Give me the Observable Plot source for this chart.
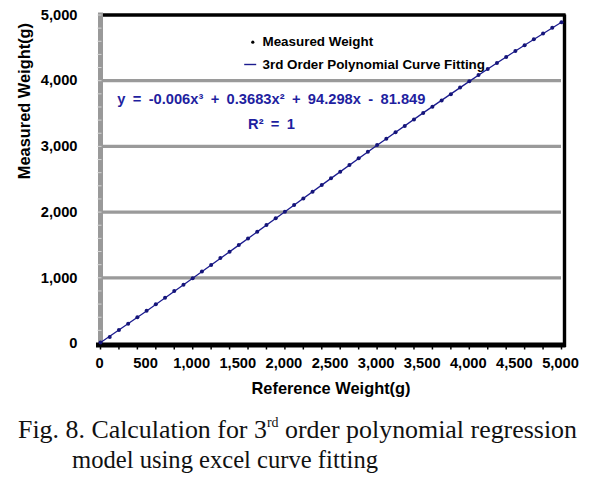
<!DOCTYPE html>
<html>
<head>
<meta charset="utf-8">
<script src="https://cdn.jsdelivr.net/npm/d3@7"></script>
<script src="https://cdn.jsdelivr.net/npm/@observablehq/plot@0.6"></script>
<style>
  html, body { margin: 0; padding: 0; background: #fff; }
  #chart svg { display: block; }
  #cap { display: block; }
</style>
</head>
<body>
<div id="chart"></div>
<svg id="cap" width="597" height="78" xmlns="http://www.w3.org/2000/svg">
  <text x="18" y="38" textLength="559" lengthAdjust="spacingAndGlyphs" font-family="Liberation Serif, DejaVu Serif, serif" font-size="26" fill="#111">Fig. 8. Calculation for 3<tspan font-size="14" dy="-11">rd</tspan><tspan dy="11"> order polynomial regression</tspan></text>
  <text x="72" y="68" textLength="306" lengthAdjust="spacingAndGlyphs" font-family="Liberation Serif, DejaVu Serif, serif" font-size="26" fill="#111">model using excel curve fitting</text>
</svg>
<script>
// ---- data ----
const referenceWeight = [0,100,200,300,400,500,600,700,800,900,1000,1100,1200,1300,1400,1500,1600,1700,1800,1900,2000,2100,2200,2300,2400,2500,2600,2700,2800,2900,3000,3100,3200,3300,3400,3500,3600,3700,3800,3900,4000,4100,4200,4300,4400,4500,4600,4700,4800,4900,5000];
const measuredWeight = [15,100,205,300,400,498,598,697,798,895,995,1095,1195,1300,1398,1500,1600,1700,1805,1905,2005,2108,2208,2310,2412,2515,2615,2718,2818,2920,3020,3115,3215,3312,3410,3510,3605,3700,3795,3895,3990,4085,4178,4270,4360,4452,4540,4630,4717,4805,4888];
const fitWeight = [0,500,1000,1500,2000,2500,3000,3500,4000,4500,5000];
const fitMeasured = [13,496,992,1497,2005,2513,3017,3510,3990,4451,4889];
const xTicks = [0,500,1000,1500,2000,2500,3000,3500,4000,4500,5000];
const yTicks = [0,1000,2000,3000,4000,5000];
const yGrid = [1000,2000,3000,4000];
const legendLabels = ["Measured Weight", "3rd Order Polynomial Curve Fitting"];
const equationText = "y\u2002=\u2002-0.006x\u00b3\u2002+\u20020.3683x\u00b2\u2002+\u200294.298x\u2002-\u200281.849";
const r2Text = "R\u00b2\u2002=\u20021";
const xTitle = "Reference Weight(g)";
const yTitle = "Measured Weight(g)";

const points = referenceWeight.map((x, i) => ({x, y: measuredWeight[i]}));
const fit = fitWeight.map((x, i) => ({x, y: fitMeasured[i]}));
const minorX = d3.range(0, 5001, 200);
const minorY = d3.range(0, 5001, 200);

const navy = "#1c1c8f";
const eqBlue = "#1f1fa0";
const hline = {draw(ctx) { ctx.moveTo(-6, 0); ctx.lineTo(6, 0); }};

const chart = Plot.plot({
  width: 597,
  height: 400,
  marginLeft: 100,
  marginRight: 36,
  marginTop: 14.5,
  marginBottom: 57,
  x: {domain: [0, 5000]},
  y: {domain: [0, 5000]},
  style: {fontFamily: "Liberation Sans, Arial, sans-serif", fontWeight: "bold", fontSize: "14.7px", color: "#000", background: "#fff"},
  marks: [
    Plot.ruleY(yGrid, {stroke: "#9a9a9a", strokeWidth: 3.3}),
    Plot.ruleY([5000], {stroke: "#000", strokeWidth: 3.4, insetRight: -4.6}),
    Plot.ruleX([5000], {stroke: "#000", strokeWidth: 3.4, dx: 3, insetBottom: -4}),
    Plot.ruleX([0], {stroke: "#999", strokeWidth: 5, insetTop: -2}),
    Plot.axisY({ticks: minorY, tickSize: 4, dx: 1.5, stroke: "#d4d4d4", tickFormat: () => "", label: null}),
    Plot.axisX({ticks: minorX, tickSize: 6.5, stroke: "#000", strokeWidth: 1.5, tickFormat: () => "", label: null}),
    Plot.ruleY([0], {stroke: "#000", strokeWidth: 5, dy: 1.5, insetLeft: -4, insetRight: -4.6}),
    Plot.axisX({ticks: xTicks, tickSize: 0, tickPadding: 14, tickFormat: d3.format(","), dx: -1, label: null}),
    Plot.axisY({ticks: yTicks, tickSize: 0, tickPadding: 23, tickFormat: d3.format(","), label: null}),
    Plot.text([xTitle], {frameAnchor: "bottom", lineAnchor: "middle", dy: 45, fontSize: 16.4, fill: "#000"}),
    Plot.text([yTitle], {frameAnchor: "left", lineAnchor: "middle", rotate: -90, dx: -76, fontSize: 16.4, fill: "#000"}),
    Plot.line(fit, {x: "x", y: "y", curve: "natural", stroke: navy, strokeWidth: 1.3}),
    Plot.dot(points, {x: "x", y: "y", r: 2, fill: "#15157a", stroke: null}),
    // legend
    Plot.dot([0], {frameAnchor: "top-left", dx: 152.3, dy: 27.2, r: 1.6, fill: "#000"}),
    Plot.text([legendLabels[0]], {frameAnchor: "top-left", lineAnchor: "middle", dx: 162, dy: 27.2, textAnchor: "start", fontSize: 13.4, fill: "#000"}),
    Plot.dot([0], {frameAnchor: "top-left", dx: 149.7, dy: 49.5, symbol: hline, stroke: navy, strokeWidth: 1.4, r: 5}),
    Plot.text([legendLabels[1]], {frameAnchor: "top-left", lineAnchor: "middle", dx: 162, dy: 49.5, textAnchor: "start", fontSize: 13.4, fill: "#000"}),
    // equation
    Plot.text([equationText], {frameAnchor: "top-left", lineAnchor: "middle", dx: 16.7, dy: 83.8, textAnchor: "start", fontSize: 14.7, fill: eqBlue}),
    Plot.text([r2Text], {frameAnchor: "top-left", lineAnchor: "middle", dx: 171, dy: 108.8, textAnchor: "middle", fontSize: 14.7, fill: eqBlue})
  ]
});
document.getElementById("chart").appendChild(chart);
</script>
</body>
</html>
